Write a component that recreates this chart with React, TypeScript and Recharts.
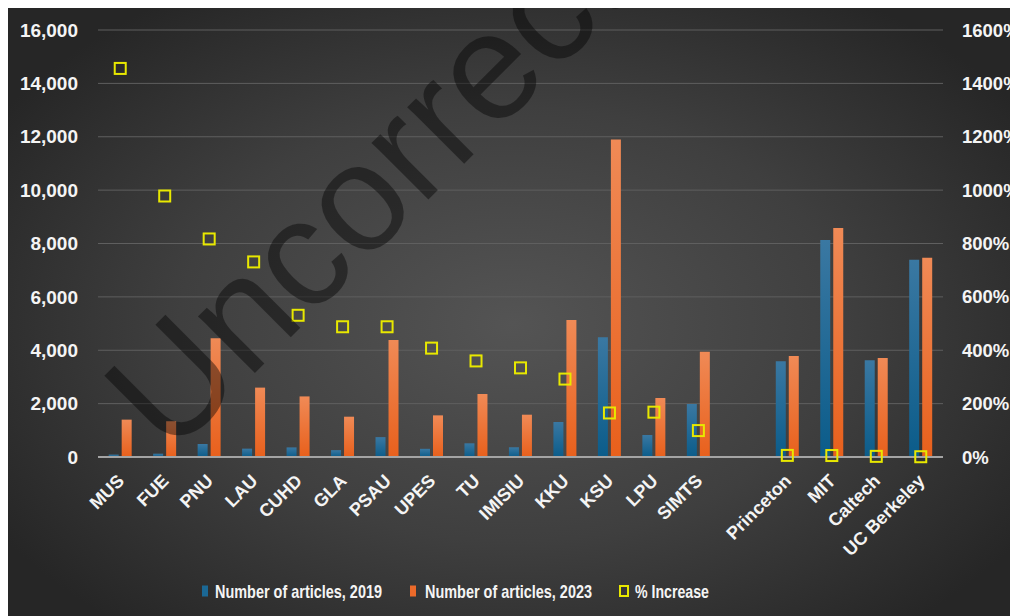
import {
  ComposedChart,
  Bar,
  Scatter,
  XAxis,
  YAxis,
  CartesianGrid,
  Legend,
} from 'recharts';

// Articles per institution (2019 vs 2023) and the % increase
const categories = [
  'MUS', 'FUE', 'PNU', 'LAU', 'CUHD', 'GLA', 'PSAU', 'UPES', 'TU', 'IMISIU',
  'KKU', 'KSU', 'LPU', 'SIMTS', '', 'Princeton', 'MIT', 'Caltech', 'UC Berkeley',
];
const articles2019 = [90, 124, 487, 313, 360, 257, 745, 307, 513, 365, 1311, 4484, 824, 1986, null, 3585, 8130, 3623, 7392];
const articles2023 = [1400, 1340, 4450, 2600, 2270, 1510, 4383, 1560, 2360, 1585, 5133, 11900, 2210, 3946, null, 3784, 8580, 3709, 7467];
const pctIncrease = [1456, 978, 817, 731, 531, 488, 488, 408, 360, 334, 292, 165, 168, 99, null, 6, 5.5, 2.4, 1];

const leftTicks = [0, 2000, 4000, 6000, 8000, 10000, 12000, 14000, 16000];
const rightTicks = [0, 200, 400, 600, 800, 1000, 1200, 1400, 1600];

const data = categories.map((name, i) => ({
  name,
  a2019: articles2019[i],
  a2023: articles2023[i],
  pct: pctIncrease[i],
}));

const BLUE = '#1b6895';
const ORANGE = '#ec6a2a';
const YELLOW = '#e8e800';
const axisFont = '"Liberation Sans", Arial, sans-serif';
const tickStyle = { fill: '#f4f4f4', fontSize: 19, fontWeight: 700, fontFamily: axisFont };

const XTick = ({ x, y, payload }: { x?: number; y?: number; payload?: { value: string } }) => {
  const ax = (x ?? 0) + 5;
  const ay = (y ?? 0) + 17;
  return (
    <text
      x={ax}
      y={ay}
      transform={`rotate(-45 ${ax} ${ay})`}
      textAnchor="end"
      fill="#f4f4f4"
      fontSize={18}
      fontWeight={700}
      fontFamily={axisFont}
    >
      {payload?.value}
    </text>
  );
};

const SquareDot = (props: { cx?: number; cy?: number; payload?: { pct: number | null } }) => {
  const { cx, cy, payload } = props;
  if (payload?.pct == null || cx == null || cy == null) return <g />;
  return <rect x={cx - 5.5} y={cy - 5.5} width={11} height={11} fill="none" stroke={YELLOW} strokeWidth={2} />;
};

// condensed legend text, squeezed to the widths seen in the original
const legendText = {
  fill: '#f4f4f4',
  fontSize: 19,
  fontWeight: 700,
  fontFamily: axisFont,
  lengthAdjust: 'spacingAndGlyphs' as const,
};

const ChartLegend = () => (
  <svg width={1010} height={50} style={{ display: 'block' }}>
    <rect x={194} y={19.5} width={6} height={11} fill={BLUE} />
    <text x={207} y={32} textLength={167} {...legendText}>Number of articles, 2019</text>
    <rect x={402} y={19.5} width={6} height={11} fill={ORANGE} />
    <text x={417} y={32} textLength={167} {...legendText}>Number of articles, 2023</text>
    <rect x={612} y={20} width={8} height={10} fill="none" stroke={YELLOW} strokeWidth={2} />
    <text x={627} y={32} textLength={74} {...legendText}>% Increase</text>
  </svg>
);

const Watermark = ({ fill }: { fill: string }) => (
  <svg
    width={1018}
    height={616}
    style={{ position: 'absolute', left: -8, top: -8, pointerEvents: 'none' }}
  >
    <text
      x={170}
      y={458}
      transform="rotate(-45 170 458)"
      fontSize={152}
      fontFamily={axisFont}
      fill={fill}
    >
      Uncorrected
    </text>
  </svg>
);

export default function App() {
  return (
    <div style={{ position: 'relative', width: 1010, height: 608 }}>
      <Watermark fill="#c4c4c4" />
      <div
        style={{
          position: 'relative',
          width: 1010,
          height: 608,
          overflow: 'hidden',
          background: 'radial-gradient(ellipse 60% 65% at 50% 52%, #545454 0%, #3f3f3f 55%, #262626 100%)',
        }}
      >
        <ComposedChart
          width={1010}
          height={608}
          data={data}
          margin={{ top: 22, right: 0, left: 0, bottom: 0 }}
          barGap={3}
          barCategoryGap="24%"
        >
          <defs>
            <linearGradient id="blueGrad" x1="0" y1="0" x2="0" y2="1">
              <stop offset="0%" stopColor="#3a78a2" />
              <stop offset="100%" stopColor="#0b5c8a" />
            </linearGradient>
            <linearGradient id="orangeGrad" x1="0" y1="0" x2="0" y2="1">
              <stop offset="0%" stopColor="#f08a56" />
              <stop offset="100%" stopColor="#e8601c" />
            </linearGradient>
          </defs>
          <CartesianGrid yAxisId="left" vertical={false} stroke="#5f5f5f" strokeWidth={1} />
          <XAxis
            dataKey="name"
            interval={0}
            tickLine={false}
            axisLine={{ stroke: '#a4a4a4', strokeWidth: 2 }}
            height={109}
            tick={<XTick />}
          />
          <YAxis
            yAxisId="left"
            width={90}
            domain={[0, 16000]}
            ticks={leftTicks}
            tickFormatter={(v: number) => v.toLocaleString('en-US')}
            axisLine={false}
            tickLine={false}
            tickMargin={14}
            tick={tickStyle}
          />
          <YAxis
            yAxisId="right"
            orientation="right"
            width={75}
            domain={[0, 1600]}
            ticks={rightTicks}
            tickFormatter={(v: number) => `${v}%`}
            axisLine={false}
            tickLine={false}
            tickMargin={13}
            tick={{ ...tickStyle, fontSize: 18.5, textAnchor: 'start' }}
          />
          <Bar yAxisId="left" dataKey="a2019" name="Number of articles, 2019" fill="url(#blueGrad)" isAnimationActive={false} />
          <Bar yAxisId="left" dataKey="a2023" name="Number of articles, 2023" fill="url(#orangeGrad)" isAnimationActive={false} />
          <Scatter yAxisId="right" dataKey="pct" name="% Increase" shape={<SquareDot />} isAnimationActive={false} />
          <Legend verticalAlign="bottom" height={50} content={<ChartLegend />} />
        </ComposedChart>
        <Watermark fill="rgba(0,0,0,0.42)" />
      </div>
    </div>
  );
}
